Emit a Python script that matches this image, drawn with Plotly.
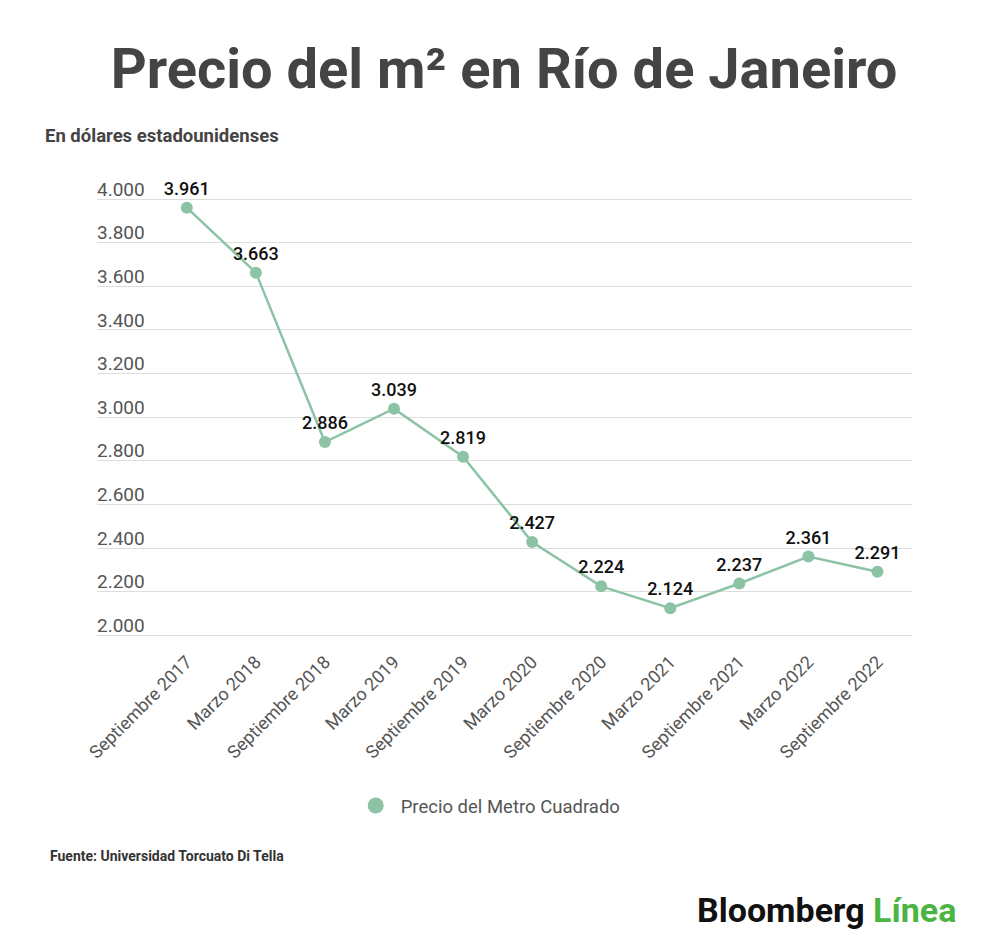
import plotly.graph_objects as go

# datos
periodos = ["Septiembre 2017", "Marzo 2018", "Septiembre 2018", "Marzo 2019",
            "Septiembre 2019", "Marzo 2020", "Septiembre 2020", "Marzo 2021",
            "Septiembre 2021", "Marzo 2022", "Septiembre 2022"]
precio_m2 = [3961, 3663, 2886, 3039, 2819, 2427, 2224, 2124, 2237, 2361, 2291]
etiquetas = ["3.961", "3.663", "2.886", "3.039", "2.819", "2.427", "2.224",
             "2.124", "2.237", "2.361", "2.291"]
y_ticks = [2000, 2200, 2400, 2600, 2800, 3000, 3200, 3400, 3600, 3800, 4000]
y_ticktext = ["2.000", "2.200", "2.400", "2.600", "2.800", "3.000", "3.200",
              "3.400", "3.600", "3.800", "4.000"]

verde = "#8cc3a5"
gris = "#444444"
H = 460  # alto del area de grafico en px

fig = go.Figure()
fig.add_trace(go.Scatter(
    x=list(range(len(periodos))), y=precio_m2,
    mode="lines+markers+text",
    showlegend=False,
    line=dict(color=verde, width=2.5),
    marker=dict(color=verde, size=12),
    text=etiquetas, textposition="top center",
    textfont=dict(family="Roboto", size=18, color="#111111", weight=500),
    cliponaxis=False,
))
# solo para la leyenda (circulo)
fig.add_trace(go.Scatter(
    x=[None], y=[None], mode="markers",
    name="Precio del Metro Cuadrado",
    marker=dict(color=verde, size=22),
))

fig.update_layout(
    width=992, height=943,
    paper_bgcolor="white", plot_bgcolor="white",
    margin=dict(l=89, r=88, t=189, b=294, autoexpand=False),
    font=dict(family="Roboto", color=gris),
    showlegend=True,
    legend=dict(orientation="h", x=0.48, xanchor="center", y=-149 / H, yanchor="middle",
                itemwidth=40,
                font=dict(family="Roboto", size=18.5, color="#555555")),
    title=dict(text="<b>Precio del m² en Río de Janeiro</b>",
               x=0.5, xanchor="center", y=0.936, yanchor="middle",
               font=dict(family="Roboto", size=56, color=gris)),
)

fig.update_xaxes(
    range=[-1.3, 10.5],
    tickmode="array", tickvals=list(range(len(periodos))), ticktext=periodos,
    tickangle=-45, tickfont=dict(family="Roboto", size=18, color="#555555"),
    ticklabelstandoff=-10,
    showgrid=False, zeroline=False, showline=False, ticks="", automargin=False,
)
fig.update_yaxes(
    range=[1900, 4010],
    tickmode="array", tickvals=y_ticks, ticktext=y_ticktext,
    ticklabelposition="inside", ticklabelshift=-10, ticklabelstandoff=-3,
    ticklabeloverflow="allow",
    tickfont=dict(family="Roboto", size=19, color="#555555"),
    showgrid=True, gridcolor="#dddddd", gridwidth=1,
    zeroline=False, showline=False, ticks="", automargin=False,
)

fig.add_annotation(text="<b>En dólares estadounidenses</b>", xref="paper", yref="paper",
                   x=-54 / 815, y=521 / H, xanchor="left", yanchor="middle",
                   showarrow=False, font=dict(family="Roboto", size=18.5, color=gris))
fig.add_annotation(text="<b>Fuente: Universidad Torcuato Di Tella</b>", xref="paper", yref="paper",
                   x=-49 / 815, y=-199 / H, xanchor="left", yanchor="middle",
                   showarrow=False, font=dict(family="Roboto", size=14, color="#333333"))
fig.add_annotation(text="<b><span style='color:#111111'>Bloomberg</span> <span style='color:#4bb543'>Línea</span></b>",
                   xref="paper", yref="paper",
                   x=861 / 815, y=-253 / H, xanchor="right", yanchor="middle",
                   showarrow=False, font=dict(family="Roboto", size=34))

fig.write_html("out.html")
